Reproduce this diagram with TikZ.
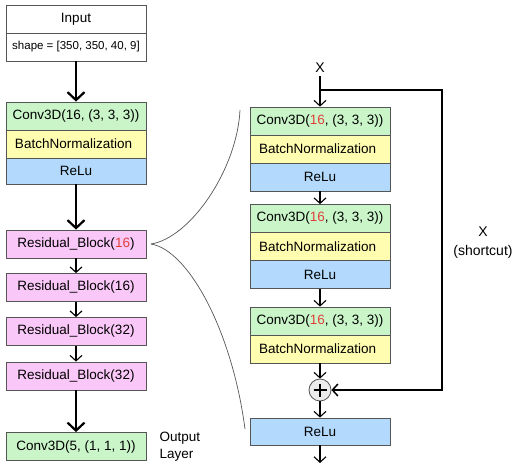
\documentclass[tikz,border=0pt]{standalone}
\usepackage{fontspec}
\setmainfont{Liberation Sans}
\usetikzlibrary{positioning,arrows.meta}
\definecolor{convgreen}{HTML}{C9F5C9}
\definecolor{bnyellow}{HTML}{FFFDB0}
\definecolor{relublue}{HTML}{B3DAFC}
\definecolor{respink}{HTML}{FAC8F8}
\definecolor{boxline}{HTML}{555555}
\definecolor{numred}{HTML}{E0403A}
\newcommand{\red}[1]{\textcolor{numred}{#1}}
\tikzset{
  layer/.style={draw=boxline, line width=0.8pt, minimum width=140pt, minimum height=28pt, inner sep=0pt, font=\fontsize{13.5}{15}\selectfont},
  conv/.style={layer, fill=convgreen},
  bn/.style={layer, fill=bnyellow, text width=122pt, align=left},
  relu/.style={layer, fill=relublue},
  res/.style={layer, fill=respink},
  thin/.style={line width=1.1pt, -{Straight Barb[length=5.5pt,width=12pt]}},
  thick/.style={line width=2.2pt, -{Straight Barb[length=8pt,width=17pt]}}
}
\begin{document}
\begin{tikzpicture}[x=1pt, y=-1pt]
  \useasboundingbox (0,0) rectangle (517,472);
  \draw (76,19) node (input) [layer, fill=white] {Input};
  \draw (76,47) node (shape) [layer, fill=white, font=\fontsize{11.5}{13}\selectfont] {shape = [350, 350, 40, 9]};
  \draw (76,116) node (conv_in) [conv] {Conv3D(16, (3, 3, 3))};
  \draw (76,144) node (bn_in) [bn] {BatchNormalization};
  \draw (76,171) node (relu_in) [relu, minimum height=26pt] {ReLu};
  \draw (76,244) node (res_a) [res] {Residual\_Block(\red{16})};
  \draw (76,287.5) node (res_b) [res] {Residual\_Block(16)};
  \draw (76,331.5) node (res_c) [res] {Residual\_Block(32)};
  \draw (76,376) node (res_d) [res] {Residual\_Block(32)};
  \draw (76,446.5) node (conv_out) [conv] {Conv3D(5, (1, 1, 1))};
  \draw (156,446.5) node (out_lbl) [anchor=west, align=left, font=\fontsize{13.5}{17}\selectfont] {Output\\Layer};
  \draw [thick] (shape) to (conv_in);
  \draw [thick] (relu_in) to (res_a);
  \draw [thin] (res_a) to (res_b);
  \draw [thin] (res_b) to (res_c);
  \draw [thin] (res_c) to (res_d);
  \draw [thick] (res_d) to (conv_out);
  \draw (320,68) node (x_in) [font=\fontsize{14}{16}\selectfont] {X};
  \draw (320,121) node (conv_r1) [conv] {Conv3D(\red{16}, (3, 3, 3))};
  \draw (320,149) node (bn_r1) [bn] {BatchNormalization};
  \draw (320,177) node (relu_r1) [relu] {ReLu};
  \draw (320,218.5) node (conv_r2) [conv] {Conv3D(\red{16}, (3, 3, 3))};
  \draw (320,246.5) node (bn_r2) [bn] {BatchNormalization};
  \draw (320,274.5) node (relu_r2) [relu] {ReLu};
  \draw (320,321) node (conv_r3) [conv] {Conv3D(\red{16}, (3, 3, 3))};
  \draw (320,349) node (bn_r3) [bn] {BatchNormalization};
  \draw (320,390) node (plus) [circle, draw=boxline, line width=0.8pt, fill=gray!15, minimum size=22pt] {};
  \draw (320,431.5) node (relu_out) [relu, minimum height=27pt] {ReLu};
  \draw (483,243) node (sc_lbl) [align=center, font=\fontsize{14}{19}\selectfont] {X\\(shortcut)};
  \coordinate (split) at (320,90);
  \coordinate (sc_top) at (442,90);
  \coordinate (sc_bot) at (442,390);
  \coordinate (end) at (320,463);
  \draw [line width=1.8pt] ([xshift=-6.5pt]plus.center) -- ([xshift=6.5pt]plus.center);
  \draw [line width=1.8pt] ([yshift=-6.5pt]plus.center) -- ([yshift=6.5pt]plus.center);
  \draw [line width=1.1pt] (x_in) -- (split);
  \draw [thin] (split) to (conv_r1);
  \draw [thin] (relu_r1) to (conv_r2);
  \draw [thin] (relu_r2) to (conv_r3);
  \draw [thin] (bn_r3) to (plus);
  \draw [thin] (plus) to (relu_out);
  \draw [thin] (relu_out) to (end);
  \draw [thin, line width=1.5pt] (split) -- (sc_top) -- (sc_bot) -- (plus);
  \coordinate (brace) at (151,244);
  \coordinate (brace_top) at (240,110);
  \coordinate (brace_bot) at (245,429);
  \draw [boxline, line width=0.7pt] (brace) .. controls (190,238) and (237,170) .. (brace_top);
  \draw [boxline, line width=0.7pt] (brace) .. controls (188,250) and (232,330) .. (brace_bot);
\end{tikzpicture}
\end{document}
